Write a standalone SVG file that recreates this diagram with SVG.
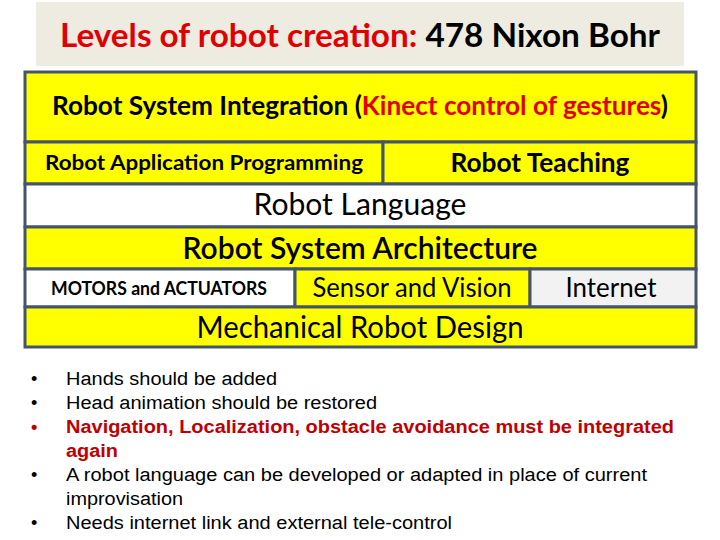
<svg xmlns="http://www.w3.org/2000/svg" width="720" height="540" viewBox="0 0 720 540">
<style>
.c{font-family:Lato,"Open Sans","Liberation Sans",sans-serif;text-anchor:middle;fill:#000}
.b{font-weight:bold}
.y{fill:#FFFF00;stroke:#44546A;stroke-width:3}
.w{fill:#FFFFFF;stroke:#44546A;stroke-width:3}
.g{fill:#F2F2F2;stroke:#44546A;stroke-width:3}
.red{fill:#E00000}
.l{font-family:"Liberation Sans",Arial,sans-serif;font-size:18px;fill:#000}
.lr{fill:#C00000;font-weight:bold}
</style>
<rect width="720" height="540" fill="#FFFFFF"/>
<g id="title">
<rect x="36" y="2" width="648" height="64" fill="#EEECE1"/>
<text class="c b" x="360" y="47" font-size="33" textLength="600" lengthAdjust="spacingAndGlyphs"><tspan class="red">Levels of robot creation: </tspan>478 Nixon Bohr</text>
</g>
<g id="integration">
<rect class="y" x="25" y="72" width="671" height="70"/>
<text class="c b" x="360" y="115" font-size="26" textLength="616" lengthAdjust="spacingAndGlyphs">Robot System Integration (<tspan class="red">Kinect control of gestures</tspan>)</text>
</g>
<g id="appprog">
<rect class="y" x="25" y="142" width="358" height="42"/>
<text class="c b" x="204" y="170" font-size="21" textLength="318" lengthAdjust="spacingAndGlyphs">Robot Application Programming</text>
</g>
<g id="teaching">
<rect class="y" x="383" y="142" width="313" height="42"/>
<text class="c b" x="540" y="172" font-size="27" textLength="179" lengthAdjust="spacingAndGlyphs">Robot Teaching</text>
</g>
<g id="language">
<rect class="w" x="25" y="184" width="671" height="43"/>
<text class="c" x="360" y="215" font-size="30" textLength="213" lengthAdjust="spacingAndGlyphs">Robot Language</text>
</g>
<g id="architecture">
<rect class="y" x="25" y="227" width="671" height="42"/>
<text class="c" x="360" y="259" font-size="30" font-weight="600" textLength="355" lengthAdjust="spacingAndGlyphs">Robot System Architecture</text>
</g>
<g id="motors">
<rect class="w" x="25" y="269" width="270" height="38"/>
<text class="c b" x="159" y="295" font-size="18" textLength="216" lengthAdjust="spacingAndGlyphs">MOTORS and ACTUATORS</text>
</g>
<g id="sensor">
<rect class="y" x="295" y="269" width="235" height="38"/>
<text class="c" x="412" y="297" font-size="27" textLength="199" lengthAdjust="spacingAndGlyphs">Sensor and Vision</text>
</g>
<g id="internet">
<rect class="g" x="530" y="269" width="166" height="38"/>
<text class="c" x="611" y="297" font-size="27" textLength="91" lengthAdjust="spacingAndGlyphs">Internet</text>
</g>
<g id="mechanical">
<rect class="y" x="25" y="307" width="671" height="40"/>
<text class="c" x="360" y="338" font-size="30" textLength="327" lengthAdjust="spacingAndGlyphs">Mechanical Robot Design</text>
</g>
<g id="connectors"/>
<g id="notes">
<text class="l" x="31" y="385" font-size="14">•</text>
<text class="l" x="66" y="385" textLength="211" lengthAdjust="spacingAndGlyphs">Hands should be added</text>
<text class="l" x="31" y="409" font-size="14">•</text>
<text class="l" x="66" y="409" textLength="311" lengthAdjust="spacingAndGlyphs">Head animation should be restored</text>
<text class="l lr" x="31" y="433" font-size="14">•</text>
<text class="l lr" x="66" y="433" textLength="608" lengthAdjust="spacingAndGlyphs">Navigation, Localization, obstacle avoidance must be integrated</text>
<text class="l lr" x="66" y="457" textLength="52" lengthAdjust="spacingAndGlyphs">again</text>
<text class="l" x="31" y="481" font-size="14">•</text>
<text class="l" x="66" y="481" textLength="581" lengthAdjust="spacingAndGlyphs">A robot language can be developed or adapted in place of current</text>
<text class="l" x="66" y="505" textLength="117" lengthAdjust="spacingAndGlyphs">improvisation</text>
<text class="l" x="31" y="529" font-size="14">•</text>
<text class="l" x="66" y="529" textLength="386" lengthAdjust="spacingAndGlyphs">Needs internet link and external tele-control</text>
</g>
</svg>
